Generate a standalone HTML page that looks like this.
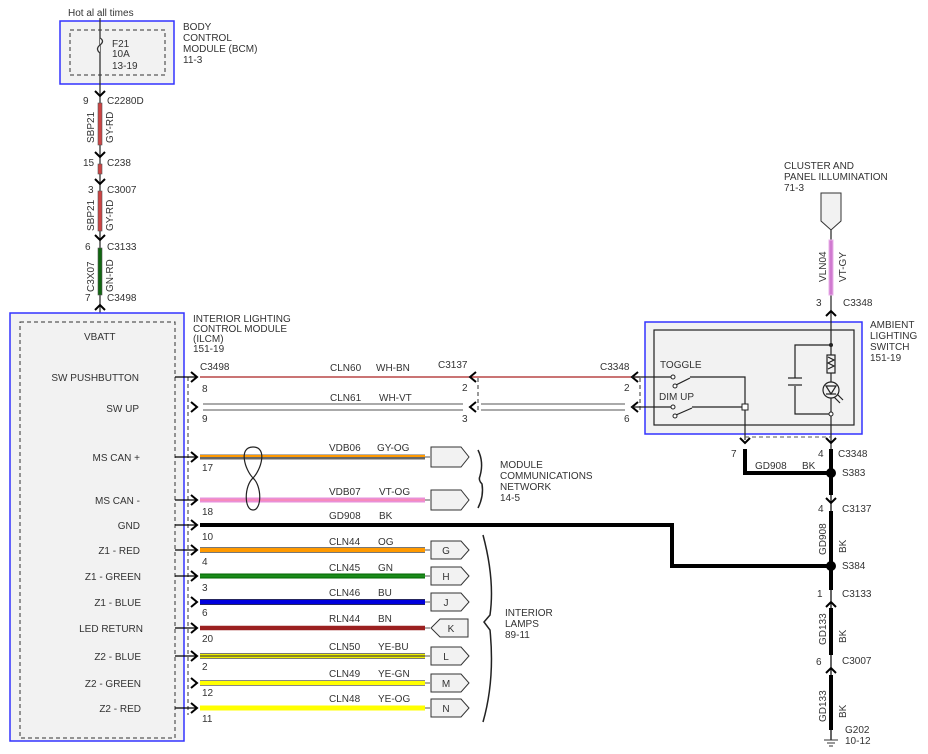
<!DOCTYPE html>
<html><head><meta charset="utf-8"><style>
html,body{margin:0;padding:0;background:#fff;}
svg{display:block;font-family:"Liberation Sans",sans-serif;}
text{font-size:10px;fill:#333;}
</style></head><body>
<svg width="928" height="754" viewBox="0 0 928 754" xmlns="http://www.w3.org/2000/svg">
<defs>
<path id="ar" d="M-6,-5 L0,0 L-6,5" fill="none" stroke="#000" stroke-width="2"/>
<path id="ad" d="M-5,-5 L0,0 L5,-5" fill="none" stroke="#000" stroke-width="2"/>
<path id="au" d="M-5,5 L0,0 L5,5" fill="none" stroke="#000" stroke-width="2"/>
<path id="al" d="M6,-5 L0,0 L6,5" fill="none" stroke="#000" stroke-width="2"/>
</defs>

<!-- BCM -->
<text x="68" y="16">Hot al all times</text>
<rect x="60" y="21" width="114" height="63" fill="#f2f2f2" stroke="#33f" stroke-width="1.5"/>
<rect x="70" y="30" width="95" height="45" fill="none" stroke="#333" stroke-dasharray="4,3"/>
<line x1="100" y1="18" x2="100" y2="313" stroke="#333" stroke-width="1.3"/>
<path d="M100,38 q5,3 0,7 q-5,4 0,8" fill="#f2f2f2" stroke="#333" stroke-width="1.3"/>
<text x="112" y="47">F21</text><text x="112" y="57">10A</text><text x="112" y="69">13-19</text>
<text x="183" y="30">BODY</text><text x="183" y="41">CONTROL</text><text x="183" y="52">MODULE (BCM)</text><text x="183" y="63">11-3</text>

<use href="#ad" x="100" y="96"/>
<text x="83" y="104">9</text><text x="107" y="104">C2280D</text>
<rect x="98" y="103" width="4" height="42" fill="#c44" stroke="#555" stroke-width="0.6"/>
<text transform="translate(94,143) rotate(-90)">SBP21</text><text transform="translate(113,143) rotate(-90)">GY-RD</text>
<use href="#ad" x="100" y="157"/>
<text x="83" y="166">15</text><text x="107" y="166">C238</text>
<rect x="98" y="164" width="4" height="10" fill="#c44" stroke="#555" stroke-width="0.6"/>
<use href="#ad" x="100" y="184"/>
<text x="88" y="193">3</text><text x="107" y="193">C3007</text>
<rect x="98" y="191" width="4" height="40" fill="#c44" stroke="#555" stroke-width="0.6"/>
<text transform="translate(94,231) rotate(-90)">SBP21</text><text transform="translate(113,231) rotate(-90)">GY-RD</text>
<use href="#ad" x="100" y="240"/>
<text x="85" y="250">6</text><text x="107" y="250">C3133</text>
<rect x="98" y="248" width="4" height="47" fill="#161" stroke="#555" stroke-width="0.6"/>
<text transform="translate(94,292) rotate(-90)">C3X07</text><text transform="translate(113,292) rotate(-90)">GN-RD</text>
<text x="85" y="301">7</text><text x="107" y="301">C3498</text>
<use href="#au" x="100" y="305"/>

<!-- ILCM -->
<rect x="10" y="313" width="174" height="428" fill="#f2f2f2" stroke="#33f" stroke-width="1.5"/>
<rect x="20" y="322" width="155" height="416" fill="none" stroke="#333" stroke-dasharray="4,3"/>
<line x1="188" y1="377" x2="188" y2="715" stroke="#333" stroke-dasharray="4,3"/>
<text x="193" y="322">INTERIOR LIGHTING</text><text x="193" y="332">CONTROL MODULE</text><text x="193" y="342">(ILCM)</text><text x="193" y="352">151-19</text>
<text x="84" y="340">VBATT</text>
<g text-anchor="end">
<text x="139" y="381">SW PUSHBUTTON</text><text x="139" y="412">SW UP</text>
<text x="140" y="461">MS CAN +</text><text x="140" y="504">MS CAN -</text>
<text x="140" y="529">GND</text><text x="140" y="554">Z1 - RED</text>
<text x="141" y="580">Z1 - GREEN</text><text x="141" y="606">Z1 - BLUE</text>
<text x="143" y="632">LED RETURN</text><text x="141" y="660">Z2 - BLUE</text>
<text x="141" y="687">Z2 - GREEN</text><text x="141" y="712">Z2 - RED</text>
</g>
<!-- stubs -->
<g stroke="#000" stroke-width="1.3">
<line x1="175" y1="377" x2="197" y2="377"/><line x1="175" y1="457" x2="197" y2="457"/>
<line x1="175" y1="500" x2="197" y2="500"/><line x1="175" y1="525" x2="197" y2="525"/>
<line x1="175" y1="550" x2="197" y2="550"/><line x1="175" y1="576" x2="197" y2="576"/>
<line x1="175" y1="628" x2="197" y2="628"/><line x1="175" y1="656" x2="197" y2="656"/>
<line x1="175" y1="708" x2="197" y2="708"/>
</g>
<use href="#ar" x="197" y="377"/><use href="#ar" x="197" y="407"/><use href="#ar" x="197" y="457"/>
<use href="#ar" x="197" y="500"/><use href="#ar" x="197" y="525"/><use href="#ar" x="197" y="550"/>
<use href="#ar" x="197" y="576"/><use href="#ar" x="197" y="602"/><use href="#ar" x="197" y="628"/>
<use href="#ar" x="197" y="656"/><use href="#ar" x="197" y="683"/><use href="#ar" x="197" y="708"/>

<text x="200" y="370">C3498</text>
<g>
<text x="202" y="392">8</text><text x="202" y="422">9</text><text x="202" y="471">17</text><text x="202" y="515">18</text>
<text x="202" y="540">10</text><text x="202" y="565">4</text><text x="202" y="591">3</text><text x="202" y="616">6</text>
<text x="202" y="642">20</text><text x="202" y="670">2</text><text x="202" y="696">12</text><text x="202" y="722">11</text>
</g>

<!-- wires -->
<line x1="200" y1="377" x2="640" y2="377" stroke="#a22" stroke-width="1.3"/>
<g stroke="#777" stroke-width="1.2">
<line x1="203" y1="404" x2="463" y2="404"/><line x1="203" y1="410" x2="463" y2="410"/>
<line x1="481" y1="404" x2="625" y2="404"/><line x1="481" y1="410" x2="625" y2="410"/>
</g>
<line x1="200" y1="457" x2="425" y2="457" stroke="#666" stroke-width="5"/><line x1="200" y1="456" x2="425" y2="456" stroke="#f90" stroke-width="2"/>
<line x1="200" y1="500" x2="425" y2="500" stroke="#e890d8" stroke-width="5"/><line x1="200" y1="500" x2="425" y2="500" stroke="#f8a" stroke-width="1.2"/>
<polyline points="200,525 672,525 672,566 831,566" fill="none" stroke="#000" stroke-width="4"/>
<line x1="200" y1="550" x2="425" y2="550" stroke="#777" stroke-width="6"/><line x1="200" y1="550" x2="425" y2="550" stroke="#f90" stroke-width="4"/>
<line x1="200" y1="576" x2="425" y2="576" stroke="#060" stroke-width="5"/><line x1="200" y1="576" x2="425" y2="576" stroke="#1a8a1a" stroke-width="3"/>
<line x1="200" y1="602" x2="425" y2="602" stroke="#333" stroke-width="6"/><line x1="200" y1="602" x2="425" y2="602" stroke="#00d" stroke-width="4.5"/>
<line x1="200" y1="628" x2="425" y2="628" stroke="#9b2020" stroke-width="4.5"/>
<line x1="200" y1="656" x2="425" y2="656" stroke="#777" stroke-width="6"/><line x1="200" y1="656" x2="425" y2="656" stroke="#ee0" stroke-width="4"/><line x1="200" y1="656" x2="425" y2="656" stroke="#224" stroke-width="1"/>
<line x1="200" y1="683" x2="425" y2="683" stroke="#888" stroke-width="6"/><line x1="200" y1="683" x2="425" y2="683" stroke="#ff0" stroke-width="4"/>
<line x1="200" y1="708" x2="425" y2="708" stroke="#ff0" stroke-width="5"/>
<g stroke="#555" stroke-width="1"><line x1="425" y1="457" x2="430" y2="457"/><line x1="425" y1="500" x2="430" y2="500"/><line x1="425" y1="550" x2="430" y2="550"/><line x1="425" y1="576" x2="430" y2="576"/><line x1="425" y1="602" x2="430" y2="602"/><line x1="425" y1="628" x2="430" y2="628"/><line x1="425" y1="656" x2="430" y2="656"/><line x1="425" y1="683" x2="430" y2="683"/><line x1="425" y1="708" x2="430" y2="708"/></g>
<!-- twist -->
<path d="M253,447 C238,447 245,470 253,478 C262,486 262,510 253,510 C244,510 244,486 253,478 C261,470 268,447 253,447Z" fill="none" stroke="#222" stroke-width="1.2"/>

<!-- wire labels -->
<g>
<text x="330" y="371">CLN60</text><text x="376" y="371">WH-BN</text>
<text x="330" y="401">CLN61</text><text x="379" y="401">WH-VT</text>
<text x="329" y="451">VDB06</text><text x="377" y="451">GY-OG</text>
<text x="329" y="495">VDB07</text><text x="379" y="495">VT-OG</text>
<text x="329" y="519">GD908</text><text x="379" y="519">BK</text>
<text x="329" y="545">CLN44</text><text x="378" y="545">OG</text>
<text x="329" y="571">CLN45</text><text x="378" y="571">GN</text>
<text x="329" y="596">CLN46</text><text x="378" y="596">BU</text>
<text x="329" y="622">RLN44</text><text x="378" y="622">BN</text>
<text x="329" y="650">CLN50</text><text x="378" y="650">YE-BU</text>
<text x="329" y="677">CLN49</text><text x="378" y="677">YE-GN</text>
<text x="329" y="702">CLN48</text><text x="378" y="702">YE-OG</text>
</g>

<!-- pentagon connectors -->
<g fill="#f2f2f2" stroke="#333" stroke-width="1">
<polygon points="431,447 461,447 469,457 461,467 431,467"/>
<polygon points="431,490 461,490 469,500 461,510 431,510"/>
<polygon points="431,541 461,541 469,550 461,559 431,559"/>
<polygon points="431,567 461,567 469,576 461,585 431,585"/>
<polygon points="431,593 461,593 469,602 461,611 431,611"/>
<polygon points="440,619 468,619 468,637 440,637 431,628"/>
<polygon points="431,647 461,647 469,656 461,665 431,665"/>
<polygon points="431,674 461,674 469,683 461,692 431,692"/>
<polygon points="431,699 461,699 469,708 461,717 431,717"/>
</g>
<g text-anchor="middle"><text x="446" y="554">G</text><text x="446" y="580">H</text><text x="446" y="606">J</text><text x="451" y="632">K</text><text x="446" y="660">L</text><text x="446" y="687">M</text><text x="446" y="712">N</text></g>
<!-- braces -->
<path d="M478,450 Q484,462 480,476 Q478,480 482,484 Q484,496 478,508" fill="none" stroke="#222" stroke-width="1.5"/>
<path d="M483,535 Q495,580 490,615 L484,622 L490,630 Q495,680 483,722" fill="none" stroke="#222" stroke-width="1.5"/>
<text x="500" y="468">MODULE</text><text x="500" y="479">COMMUNICATIONS</text><text x="500" y="490">NETWORK</text><text x="500" y="501">14-5</text>
<text x="505" y="616">INTERIOR</text><text x="505" y="627">LAMPS</text><text x="505" y="638">89-11</text>

<!-- C3137 -->
<text x="438" y="368">C3137</text>
<use href="#al" x="470" y="377"/><use href="#al" x="470" y="407"/>
<line x1="478" y1="378" x2="478" y2="410" stroke="#333" stroke-dasharray="4,3"/>
<text x="462" y="391">2</text><text x="462" y="422">3</text>
<!-- C3348 -->
<text x="600" y="370">C3348</text>
<use href="#al" x="632" y="377"/><use href="#al" x="632" y="407"/>
<line x1="640" y1="378" x2="640" y2="410" stroke="#333" stroke-dasharray="4,3"/>
<text x="624" y="391">2</text><text x="624" y="422">6</text>

<!-- Ambient switch -->
<rect x="645" y="322" width="217" height="112" fill="#f2f2f2" stroke="#33f" stroke-width="1.5"/>
<rect x="654" y="330" width="200" height="95" fill="none" stroke="#222" stroke-width="1.2"/>
<text x="870" y="328">AMBIENT</text><text x="870" y="339">LIGHTING</text><text x="870" y="350">SWITCH</text><text x="870" y="361">151-19</text>
<text x="660" y="368">TOGGLE</text><text x="659" y="400">DIM UP</text>
<g stroke="#222" stroke-width="1.2" fill="none">
<line x1="632" y1="377" x2="672" y2="377"/><line x1="632" y1="407" x2="672" y2="407"/>
<line x1="676" y1="385" x2="690" y2="378"/><line x1="676" y1="415" x2="692" y2="408"/>
<polyline points="690,377 745,377 745,440"/><line x1="692" y1="407" x2="745" y2="407"/>
<line x1="831" y1="225" x2="831" y2="458"/>
<polyline points="831,345 795,345 795,378"/><polyline points="795,386 795,414 831,414"/>
<line x1="788" y1="378" x2="802" y2="378"/><line x1="788" y1="385" x2="802" y2="385"/>
<rect x="827" y="355" width="8" height="18" fill="#f2f2f2"/>
<path d="M828,357 l6,3 l-6,3 l6,3 l-6,3"/>
<circle cx="831" cy="390" r="8" fill="#f2f2f2"/>
<path d="M826,386 L836,386 L831,394 Z"/><line x1="826" y1="394" x2="836" y2="394"/>
<line x1="837" y1="394" x2="843" y2="400"/><line x1="834" y1="397" x2="840" y2="403"/>
</g>
<circle cx="673" cy="377" r="2" fill="#fff" stroke="#222"/><circle cx="675" cy="386" r="2" fill="#fff" stroke="#222"/>
<circle cx="673" cy="407" r="2" fill="#fff" stroke="#222"/><circle cx="675" cy="416" r="2" fill="#fff" stroke="#222"/>
<rect x="742" y="404" width="6" height="6" fill="#fff" stroke="#222"/>
<circle cx="831" cy="345" r="2" fill="#222"/><circle cx="831" cy="414" r="2" fill="#fff" stroke="#222"/>
<line x1="745" y1="437" x2="831" y2="437" stroke="#555" stroke-dasharray="4,3"/>
<use href="#ad" x="745" y="443"/><use href="#ad" x="831" y="443"/>
<text x="731" y="457">7</text><text x="818" y="457">4</text><text x="838" y="457">C3348</text>
<polyline points="745,449 745,473 831,473" fill="none" stroke="#000" stroke-width="4"/>
<text x="755" y="469">GD908</text><text x="802" y="469">BK</text>
<circle cx="831" cy="473" r="5" fill="#000"/><text x="842" y="476">S383</text>

<!-- cluster -->
<text x="784" y="169">CLUSTER AND</text><text x="784" y="180">PANEL ILLUMINATION</text><text x="784" y="191">71-3</text>
<polygon points="821,193 841,193 841,221 831,230 821,221" fill="#f2f2f2" stroke="#333"/>
<rect x="829" y="240" width="4" height="55" fill="#d07ad0" stroke="#e8b0e8"/>
<text transform="translate(826,282) rotate(-90)">VLN04</text><text transform="translate(846,282) rotate(-90)">VT-GY</text>
<text x="816" y="306">3</text><text x="843" y="306">C3348</text>
<use href="#au" x="831" y="311"/>

<!-- right ground path -->
<g stroke="#000" stroke-width="4">
<line x1="831" y1="449" x2="831" y2="495"/>
<line x1="831" y1="511" x2="831" y2="590"/>
<line x1="831" y1="608" x2="831" y2="655"/>
<line x1="831" y1="675" x2="831" y2="730"/>
</g>
<line x1="831" y1="495" x2="831" y2="511" stroke="#000" stroke-width="1.2"/>
<use href="#ad" x="831" y="503"/>
<text x="818" y="512">4</text><text x="842" y="512">C3137</text>
<text transform="translate(826,555) rotate(-90)">GD908</text><text transform="translate(846,553) rotate(-90)">BK</text>
<circle cx="831" cy="566" r="5" fill="#000"/><text x="842" y="569">S384</text>
<line x1="831" y1="590" x2="831" y2="608" stroke="#000" stroke-width="1.2"/>
<text x="817" y="597">1</text><text x="842" y="597">C3133</text>
<use href="#au" x="831" y="602"/>
<text transform="translate(826,645) rotate(-90)">GD133</text><text transform="translate(846,643) rotate(-90)">BK</text>
<line x1="831" y1="655" x2="831" y2="675" stroke="#000" stroke-width="1.2"/>
<text x="816" y="665">6</text><text x="842" y="664">C3007</text>
<use href="#au" x="831" y="668"/>
<text transform="translate(826,722) rotate(-90)">GD133</text><text transform="translate(846,718) rotate(-90)">BK</text>
<line x1="831" y1="730" x2="831" y2="740" stroke="#000" stroke-width="1.2"/>
<g stroke="#333"><line x1="824" y1="740" x2="838" y2="740"/><line x1="827" y1="743" x2="835" y2="743"/><line x1="829" y1="746" x2="833" y2="746"/></g>
<text x="845" y="733">G202</text><text x="845" y="744">10-12</text>
</svg>
</body></html>
